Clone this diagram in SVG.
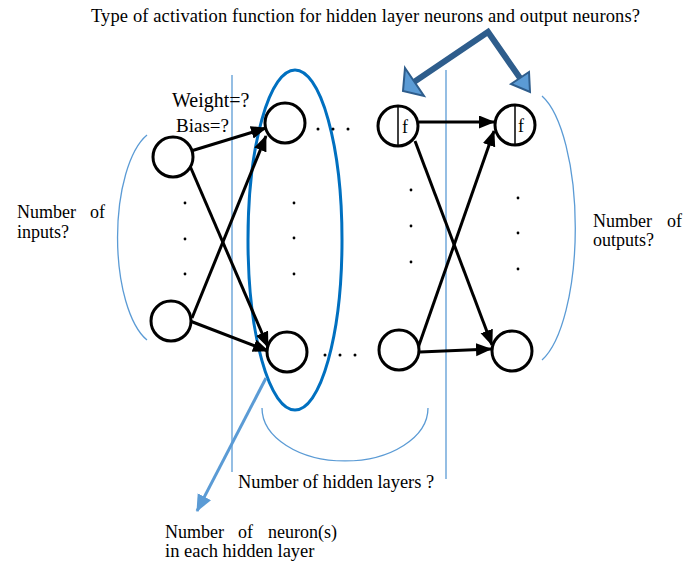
<svg xmlns="http://www.w3.org/2000/svg" width="697" height="565" viewBox="0 0 697 565">
<defs>
<marker id="ah" markerUnits="userSpaceOnUse" markerWidth="17" markerHeight="14" refX="15" refY="6.5" orient="auto"><path d="M0,0 L16,6.5 L0,13 z" fill="#000"/></marker>
<marker id="bh" markerUnits="userSpaceOnUse" markerWidth="18" markerHeight="16" refX="16" refY="7.5" orient="auto"><path d="M0,0 L17,7.5 L0,15 z" fill="#5B9BD5"/></marker>
</defs>
<style>
.n{fill:#fff;stroke:#000;stroke-width:3}
.c{stroke:#000;stroke-width:3;fill:none;marker-end:url(#ah)}
.thin{stroke:#5B9BD5;stroke-width:1.3;fill:none}
.t{font-family:"Liberation Serif","Times New Roman",serif;font-size:18px;fill:#000}
.d{fill:#000}
</style>
<rect width="697" height="565" fill="#fff"/>

<g id="guides">
<line class="thin" x1="232" y1="75" x2="232" y2="472"/>
<line class="thin" x1="446" y1="70" x2="446" y2="479"/>
<path class="thin" d="M147,135 A43,108 0 0 0 147,340"/>
<path class="thin" d="M542,96 A47,138 0 0 1 542,360"/>
<path class="thin" d="M262,408 A83,53 0 0 0 428,408"/>
</g>

<g id="hidden-ellipse"><ellipse cx="295" cy="240" rx="47" ry="170" fill="none" stroke="#0070C0" stroke-width="3"/></g>

<g id="connectors">
<line class="c" x1="191" y1="151" x2="266" y2="128"/>
<line class="c" x1="190" y1="166" x2="268" y2="347"/>
<line class="c" x1="192" y1="318" x2="266" y2="136"/>
<line class="c" x1="190" y1="321" x2="268" y2="351"/>
<line class="c" x1="419" y1="122" x2="494" y2="122"/>
<line class="c" x1="415" y1="141" x2="492" y2="345"/>
<line class="c" x1="420" y1="352" x2="491" y2="349"/>
<line class="c" x1="418" y1="348" x2="494" y2="131"/>
<line x1="266" y1="378" x2="197" y2="511" stroke="#5B9BD5" stroke-width="3" marker-end="url(#bh)"/>
<g id="activation-arrows">
<polyline points="414,82 488,32 520,78" fill="none" stroke="#2E5D8C" stroke-width="6" stroke-linejoin="miter"/>
<polygon points="405,68 424,96 403,91" fill="#5B9BD5" stroke="#2E5D8C" stroke-width="2" stroke-linejoin="miter"/>
<polygon points="511,84 529,72 530,92" fill="#5B9BD5" stroke="#2E5D8C" stroke-width="2" stroke-linejoin="miter"/>
</g>
</g>

<g id="in1"><circle class="n" cx="173" cy="157" r="20"/></g>
<g id="in2"><circle class="n" cx="171" cy="321" r="20"/></g>
<g id="h1top"><circle class="n" cx="285" cy="123" r="20"/></g>
<g id="h1bot"><circle class="n" cx="287" cy="352" r="20"/></g>
<g id="hntop"><circle class="n" cx="398" cy="126" r="20"/><line x1="398" y1="106" x2="398" y2="146" stroke="#000" stroke-width="1.5"/><text class="t" x="402" y="133">f</text></g>
<g id="hnbot"><circle class="n" cx="399" cy="350" r="20"/></g>
<g id="outtop"><circle class="n" cx="515" cy="125" r="20"/><line x1="515" y1="105" x2="515" y2="145" stroke="#000" stroke-width="1.5"/><text class="t" x="518" y="132">f</text></g>
<g id="outbot"><circle class="n" cx="512" cy="351" r="20"/></g>

<g id="dots">
<circle class="d" cx="318" cy="129" r="1.5"/><circle class="d" cx="333" cy="129" r="1.5"/><circle class="d" cx="348" cy="129" r="1.5"/>
<circle class="d" cx="325" cy="355" r="1.5"/><circle class="d" cx="340" cy="355" r="1.5"/><circle class="d" cx="355" cy="355" r="1.5"/>
<circle class="d" cx="185" cy="203" r="1.4"/><circle class="d" cx="185" cy="239" r="1.4"/><circle class="d" cx="185" cy="274" r="1.4"/>
<circle class="d" cx="294" cy="203" r="1.4"/><circle class="d" cx="294" cy="238" r="1.4"/><circle class="d" cx="294" cy="274" r="1.4"/>
<circle class="d" cx="411" cy="190" r="1.4"/><circle class="d" cx="411" cy="226" r="1.4"/><circle class="d" cx="411" cy="262" r="1.4"/>
<circle class="d" cx="518" cy="198" r="1.4"/><circle class="d" cx="518" cy="233" r="1.4"/><circle class="d" cx="518" cy="269" r="1.4"/>
</g>

<g id="labels">
<text class="t" x="91" y="22" style="font-size:18.5px" textLength="549" lengthAdjust="spacing">Type of activation function for hidden layer neurons and output neurons?</text>
<text class="t" x="172" y="107" style="font-size:20px">Weight=?</text>
<text class="t" x="176" y="132" style="font-size:19px">Bias=?</text>
<text class="t" x="17" y="218">Number</text><text class="t" x="90" y="218">of</text>
<text class="t" x="17" y="238">inputs?</text>
<text class="t" x="593" y="227">Number</text><text class="t" x="667" y="227">of</text>
<text class="t" x="593" y="246">outputs?</text>
<text class="t" x="238" y="488" style="font-size:18.4px">Number of hidden layers ?</text>
<text class="t" x="165" y="538">Number</text><text class="t" x="238" y="538">of</text><text class="t" x="268" y="538">neuron(s)</text>
<text class="t" x="165" y="557" style="font-size:18.5px">in each hidden layer</text>
</g>
</svg>
